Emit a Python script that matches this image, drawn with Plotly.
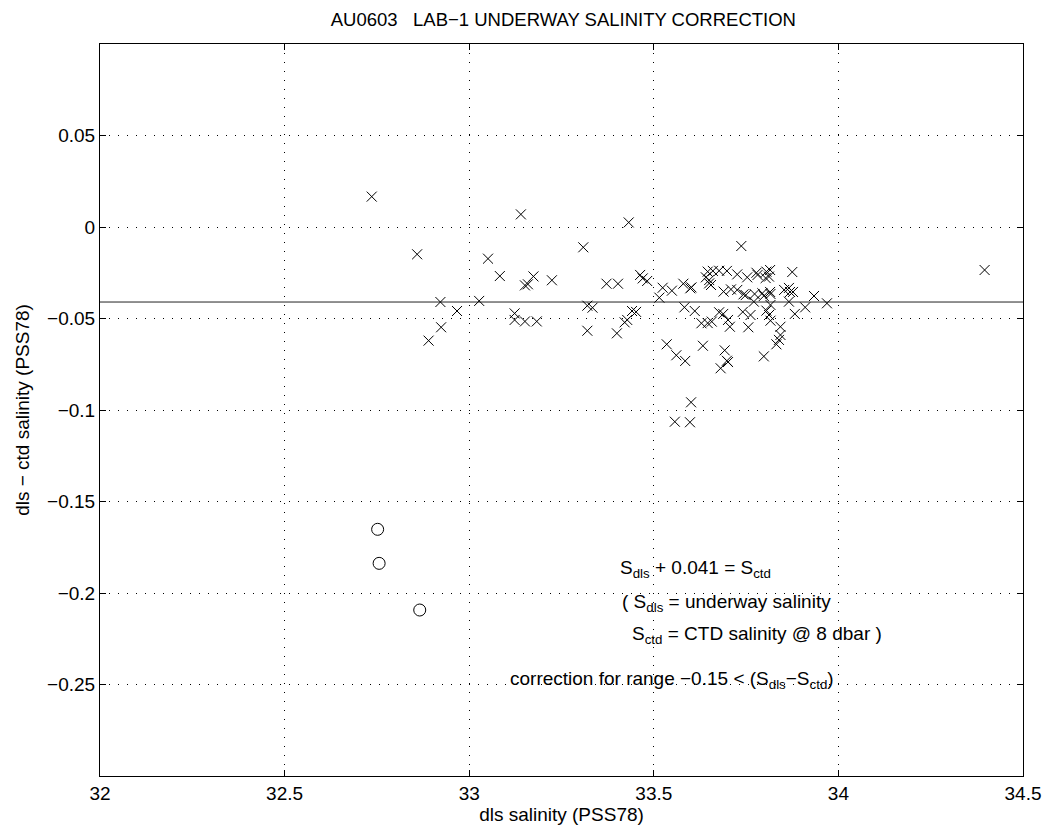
import plotly.graph_objects as go

# dls salinity (x) and dls - ctd salinity (y) for points used in correction (crosses)
dls_used = [
    32.736, 32.859, 32.922, 32.967, 32.924, 32.890, 33.027, 33.051, 33.083, 33.140,
    33.151, 33.159, 33.174, 33.224, 33.123, 33.123, 33.151, 33.183, 33.309, 33.432,
    33.320, 33.334, 33.320, 33.372, 33.403, 33.400, 33.421, 33.428, 33.441, 33.452,
    33.463, 33.470, 33.482, 33.515, 33.524, 33.549, 33.580, 33.599, 33.602, 33.583,
    33.611, 33.535, 33.561, 33.585, 33.601, 33.557, 33.598, 33.633, 33.692, 33.698,
    33.701, 33.681, 33.737, 33.629, 33.646, 33.657, 33.677, 33.688, 33.701, 33.706,
    33.741, 33.762, 33.756, 33.798, 33.805, 33.816, 33.646, 33.641, 33.650, 33.677,
    33.698, 33.726, 33.753, 33.778, 33.805, 33.812, 33.660, 33.781, 33.803, 33.815,
    33.689, 33.709, 33.726, 33.749, 33.773, 33.798, 33.816, 33.743, 33.794, 33.771,
    33.650, 33.655, 33.875, 33.815, 33.853, 33.866, 33.869, 33.877, 33.934, 33.969,
    33.866, 33.910, 33.882, 33.816, 33.843, 33.843, 33.839, 33.832, 33.812, 34.396,
]
diff_used = [
    0.0166, -0.0149, -0.0410, -0.0459, -0.0548, -0.0621, -0.0404, -0.0173, -0.0268, 0.0069,
    -0.0319, -0.0313, -0.0270, -0.0291, -0.0472, -0.0508, -0.0516, -0.0516, -0.0111, 0.0025,
    -0.0430, -0.0441, -0.0567, -0.0310, -0.0310, -0.0581, -0.0521, -0.0508, -0.0459, -0.0464,
    -0.0262, -0.0281, -0.0295, -0.0386, -0.0332, -0.0348, -0.0310, -0.0335, -0.0330, -0.0439,
    -0.0459, -0.0641, -0.0701, -0.0732, -0.0958, -0.1064, -0.1067, -0.0649, -0.0674, -0.0731,
    -0.0738, -0.0772, -0.0104, -0.0526, -0.0525, -0.0517, -0.0466, -0.0475, -0.0508, -0.0545,
    -0.0464, -0.0481, -0.0548, -0.0707, -0.0457, -0.0512, -0.0244, -0.0275, -0.0308, -0.0239,
    -0.0240, -0.0259, -0.0275, -0.0250, -0.0244, -0.0271, -0.0240, -0.0262, -0.0279, -0.0235,
    -0.0353, -0.0341, -0.0344, -0.0372, -0.0366, -0.0377, -0.0366, -0.0368, -0.0362, -0.0408,
    -0.0290, -0.0317, -0.0246, -0.0355, -0.0344, -0.0333, -0.0355, -0.0355, -0.0377, -0.0417,
    -0.0408, -0.0439, -0.0475, -0.0426, -0.0545, -0.0590, -0.0617, -0.0641, -0.0481, -0.0235,
]

# rejected points (circles)
dls_rejected = [32.752, 32.756, 32.866]
diff_rejected = [-0.1652, -0.1838, -0.2093]

# mean offset line
offset = -0.041
x_range = [32.0, 34.5]
y_range = [-0.3, 0.1]

x_ticks = [32, 32.5, 33, 33.5, 34, 34.5]
x_tick_labels = ["32", "32.5", "33", "33.5", "34", "34.5"]
y_ticks = [0.05, 0, -0.05, -0.1, -0.15, -0.2, -0.25]
y_tick_labels = ["0.05", "0", "\u22120.05", "\u22120.1", "\u22120.15", "\u22120.2", "\u22120.25"]

FONT = "Liberation Sans, Arial, Helvetica, sans-serif"
FS = 19

fig = go.Figure()
fig.add_trace(go.Scatter(
    x=x_range, y=[offset, offset], mode="lines",
    line=dict(color="#222222", width=1), hoverinfo="skip", showlegend=False))
fig.add_trace(go.Scatter(
    x=dls_used, y=diff_used, mode="markers",
    marker=dict(symbol="x-thin-open", size=10, color="black", line=dict(color="black", width=1)),
    showlegend=False))
fig.add_trace(go.Scatter(
    x=dls_rejected, y=diff_rejected, mode="markers",
    marker=dict(symbol="circle-open", size=12, color="black", line=dict(color="black", width=1)),
    showlegend=False))

axis_common = dict(
    showline=True, linecolor="black", linewidth=1, mirror="ticks",
    ticks="inside", ticklen=6, tickcolor="black",
    showgrid=True, gridcolor="black", gridwidth=1, griddash="1px,8px",
    zeroline=False, tickfont=dict(family=FONT, size=FS, color="black"),
)

fig.update_xaxes(range=x_range, tickvals=x_ticks, ticktext=x_tick_labels,
                 title=dict(text="dls salinity (PSS78)", font=dict(family=FONT, size=FS, color="black"), standoff=2),
                 **axis_common)
fig.update_yaxes(range=y_range, tickvals=y_ticks, ticktext=y_tick_labels,
                 title=dict(text="dls \u2212 ctd salinity (PSS78)", font=dict(family=FONT, size=FS, color="black"), standoff=12),
                 **axis_common)

ann_font = dict(family=FONT, size=FS, color="black")
annotations = [
    ("S<sub>dls</sub> + 0.041 = S<sub>ctd</sub>", 33.403, -0.1869),
    ("( S<sub>dls</sub> = underway salinity", 33.408, -0.2055),
    ("S<sub>ctd</sub> = CTD salinity @ 8 dbar )", 33.4345, -0.2230),
    ("correction for range \u22120.15 &lt; (S<sub>dls</sub>\u2212S<sub>ctd</sub>)", 33.104, -0.2475),
]
for txt, ax_, ay_ in annotations:
    fig.add_annotation(text=txt, x=ax_, y=ay_, xref="x", yref="y",
                       xanchor="left", yanchor="middle", showarrow=False, font=ann_font)

fig.update_layout(
    width=1053, height=832,
    margin=dict(l=100, r=26, t=44, b=56),
    paper_bgcolor="white", plot_bgcolor="white",
    title=dict(text="AU0603   LAB\u22121 UNDERWAY SALINITY CORRECTION",
               x=0.535, xanchor="center", y=0.977, yanchor="middle",
               font=dict(family=FONT, size=18.5, color="black")),
    font=dict(family=FONT, color="black"),
)

fig.write_html("out.html")
